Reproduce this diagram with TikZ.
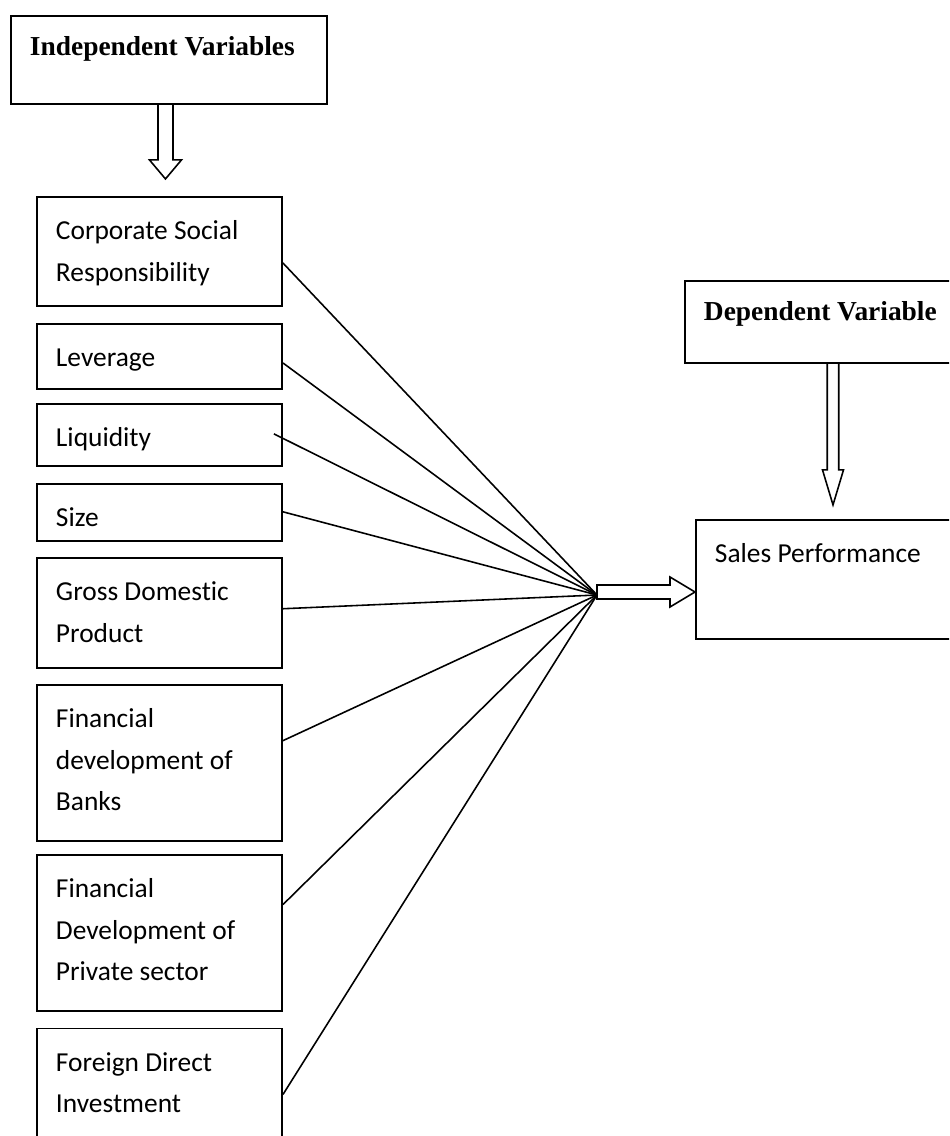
\documentclass[tikz,border=0pt]{standalone}
\usepackage{fontspec}
\setmainfont{Carlito}[Ligatures=NoCommon]
\newfontfamily\headfont{Liberation Serif}
\usetikzlibrary{
    positioning,
    calc,
}

\begin{document}
\begin{tikzpicture}[
    node distance= 0.30cm,
    varbox/.style 2 args={draw, line width=1.1pt, anchor=north west, inner
    sep=0pt, font=\fontsize{15.6pt}{23.6pt}\selectfont,
    execute at begin node={\begin{minipage}[c][#1][t]{#2}\raggedright
    \leftskip=0.38cm\rule{0pt}{0.86cm}},
    execute at end node={\end{minipage}}},
    headbox/.style 2 args={draw, line width=1.1pt, anchor=north west, inner
    sep=0pt, font=\headfont\bfseries\fontsize{15.6pt}{20pt}\selectfont,
    execute at begin node={\begin{minipage}[c][#1][t]{#2}\raggedright
    \leftskip=0.38cm\rule{0pt}{0.80cm}},
    execute at end node={\end{minipage}}},
    link/.style={line width=0.9pt},
    hollow/.style={draw, line width=0.9pt, line join=miter},
]

\clip (0,0) rectangle (18.98,-22.72);

% INDEPENDENT VARIABLES
\node[headbox={1.76cm}{6.32cm}] at (0.2,-0.3) (indep) {Independent Variables};

\node[varbox={2.18cm}{4.9cm}] at (0.72,-3.92) (csr) {Corporate Social\\Responsibility};
\node[varbox={1.30cm}{4.9cm}, below=0.32cm of csr.south west, anchor=north west] (lev) {Leverage};
\node[varbox={1.24cm}{4.9cm}, below=0.26cm of lev.south west, anchor=north west] (liq) {Liquidity};
\node[varbox={1.14cm}{4.9cm}, below=0.32cm of liq.south west, anchor=north west] (size) {Size};
\node[varbox={2.20cm}{4.9cm}, below=of size.south west, anchor=north west] (gdp) {Gross Domestic\\Product};
\node[varbox={3.12cm}{4.9cm}, below=of gdp.south west, anchor=north west] (banks) {Financial\\development of\\Banks};
\node[varbox={3.12cm}{4.9cm}, below=0.24cm of banks.south west, anchor=north west] (private) {Financial\\Development of\\Private sector};
\node[varbox={3.00cm}{4.9cm}, below=0.32cm of private.south west, anchor=north west] (fdi) {Foreign Direct\\Investment};

% DEPENDENT VARIABLE
\node[headbox={1.64cm}{5.5cm}] at (13.68,-5.6) (dep) {Dependent Variable};
\node[varbox={2.38cm}{5.3cm}] at (13.9,-10.38) (sales) {Sales Performance};

% HUB
\coordinate (hub) at (11.94,-11.9);

\draw[link] ([yshift=-1.34cm]csr.north east) -- (hub);
\draw[link] ([yshift=-0.80cm]lev.north east) -- (hub);
\draw[link] ([xshift=-0.18cm, yshift=-0.62cm]liq.north east) -- (hub);
\draw[link] ([yshift=-0.58cm]size.north east) -- (hub);
\draw[link] ([yshift=-1.04cm]gdp.north east) -- (hub);
\draw[link] ([yshift=-1.14cm]banks.north east) -- (hub);
\draw[link] ([yshift=-1.02cm]private.north east) -- (hub);
\draw[link] ([yshift=-1.34cm]fdi.north east) -- (hub);

% HOLLOW ARROWS
\draw[hollow] ([xshift=-0.07cm]indep.south) ++(-0.15,0) -- ++(0,-1.1)
    -- ++(-0.17,0) -- ++(0.32,-0.38) -- ++(0.32,0.38) -- ++(-0.17,0) -- ++(0,1.1);
\draw[hollow] ([xshift=2.98cm]dep.south west) ++(-0.115,0) -- ++(0,-2.12)
    -- ++(-0.095,0) -- ++(0.21,-0.7) -- ++(0.21,0.7) -- ++(-0.095,0) -- ++(0,2.12);
\draw[hollow] ([yshift=0.06cm]hub) ++(0,0.14) -- ++(1.46,0) -- ++(0,0.16)
    -- ++(0.5,-0.3) -- ++(-0.5,-0.3) -- ++(0,0.16) -- ++(-1.46,0) -- cycle;

\end{tikzpicture}
\end{document}
